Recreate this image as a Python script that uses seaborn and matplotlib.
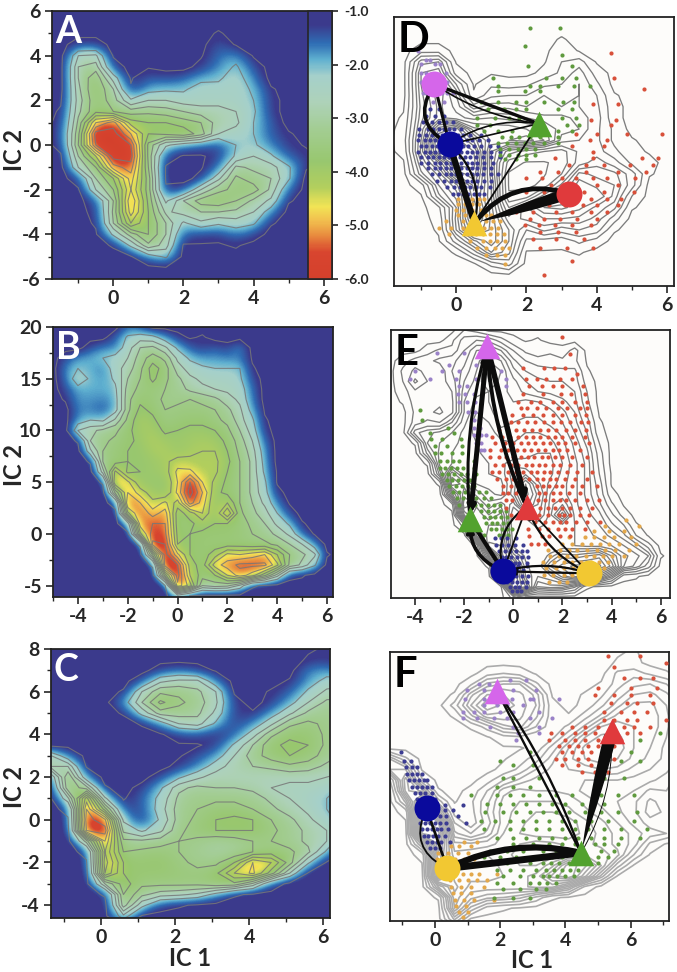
import numpy as np
import pandas as pd
import matplotlib
matplotlib.use("Agg")
import matplotlib.pyplot as plt
import seaborn as sns
from matplotlib.colors import LinearSegmentedColormap, Normalize
from matplotlib.cm import ScalarMappable
from matplotlib.patches import FancyArrowPatch
from matplotlib.ticker import MultipleLocator

# free energy, stored as -10*F per row: y -> (first x, values), rest of the row is navy (10)
A_XS = [-2 + 0.5 * i for i in range(18)]
A_YS = [6 - 0.5 * i for i in range(25)]
A_ROWS = {
    5.0: (3.0, [12]),
    4.5: (-1.0, [14, 14, 10, 10, 10, 10, 10, 10, 15, 11]),
    4.0: (-1.0, [26, 27, 11, 10, 10, 10, 10, 11, 16, 18, 11]),
    3.5: (-1.0, [30, 32, 14, 10, 11, 10, 10, 13, 17, 22, 14]),
    3.0: (-1.0, [30, 37, 24, 11, 15, 14, 15, 19, 20, 24, 17, 10]),
    2.5: (-1.0, [29, 38, 30, 12, 19, 20, 20, 24, 23, 24, 20, 12]),
    2.0: (-1.5, [11, 28, 37, 32, 22, 26, 26, 24, 24, 24, 24, 21, 13]),
    1.5: (-1.5, [12, 29, 37, 34, 32, 33, 32, 30, 28, 28, 26, 22, 13]),
    1.0: (-1.5, [13, 31, 50, 56, 40, 38, 38, 36, 34, 28, 27, 21, 15]),
    0.5: (-1.5, [14, 33, 60, 60, 50, 38, 39, 41, 36, 26, 24, 21, 15, 12]),
    0.0: (-1.5, [13, 34, 58, 60, 58, 33, 22, 18, 16, 14, 21, 22, 17, 13, 11]),
    -0.5: (-1.5, [11, 30, 42, 60, 60, 33, 14, 11, 11, 13, 22, 26, 22, 15, 13]),
    -1.0: (-1.5, [10, 26, 34, 52, 56, 34, 11, 10, 11, 16, 31, 29, 28, 22, 12]),
    -1.5: (-1.0, [14, 30, 38, 52, 36, 11, 10, 13, 25, 35, 32, 30, 22, 10]),
    -2.0: (-1.0, [11, 26, 34, 50, 36, 12, 14, 26, 33, 35, 36, 29, 16]),
    -2.5: (-0.5, [15, 30, 54, 37, 20, 30, 36, 37, 34, 29, 25, 12]),
    -3.0: (-0.5, [13, 31, 52, 38, 25, 28, 30, 30, 29, 26, 18, 10]),
    -3.5: (-0.5, [12, 30, 46, 38, 30, 20, 25, 22, 24, 22, 12]),
    -4.0: (-0.5, [11, 22, 32, 38, 30, 15, 14, 13, 17, 14, 10]),
    -4.5: (0.0, [12, 22, 33, 28, 11, 11, 11, 12, 10]),
    -5.0: (0.5, [11, 18, 22, 10]),
    -5.5: (1.5, [11]),
}

B_XS = [-5 + 0.5 * i for i in range(24)]
B_YS = [20 - i for i in range(27)]
B_ROWS = {
    20: (-2.0, [16, 14]),
    19: (-2.5, [15, 22, 24, 23, 18, 13, 11, 12, 10]),
    18: (-3.5, [14, 17, 17, 24, 30, 31, 27, 20, 15, 13, 15, 13, 18]),
    17: (-4.5, [14, 18, 19, 21, 23, 26, 32, 36, 33, 25, 20, 18, 18, 17, 17, 11]),
    16: (-4.5, [17, 21, 19, 17, 24, 28, 33, 40, 36, 28, 24, 22, 21, 21, 21, 12]),
    15: (-4.5, [16, 25, 20, 18, 22, 30, 34, 39, 35, 31, 27, 25, 24, 24, 22, 14]),
    14: (-4.5, [14, 19, 19, 19, 20, 32, 35, 36, 34, 32, 29, 27, 26, 25, 24, 16, 10]),
    13: (-4.5, [12, 18, 18, 17, 19, 33, 37, 36, 33, 33, 34, 33, 31, 28, 25, 17, 10]),
    12: (-4.0, [17, 17, 15, 19, 33, 39, 37, 34, 35, 35, 35, 34, 31, 27, 19, 11]),
    11: (-4.0, [18, 21, 20, 27, 35, 41, 39, 35, 36, 37, 37, 35, 33, 28, 22, 12]),
    10: (-4.0, [26, 29, 31, 33, 37, 40, 41, 37, 38, 39, 39, 38, 35, 30, 24, 13]),
    9: (-4.0, [12, 30, 33, 35, 37, 39, 42, 40, 39, 40, 41, 40, 37, 32, 26, 16]),
    8: (-3.5, [25, 34, 36, 38, 38, 41, 42, 39, 41, 42, 42, 38, 33, 28, 18]),
    7: (-3.5, [12, 34, 36, 38, 38, 39, 41, 44, 43, 42, 43, 39, 34, 29, 19]),
    6: (-3.0, [28, 47, 37, 38, 39, 40, 47, 47, 43, 43, 38, 34, 29, 20, 11]),
    5: (-3.0, [12, 50, 47, 39, 38, 38, 46, 58, 46, 41, 37, 34, 29, 22, 11]),
    4: (-2.5, [35, 50, 44, 40, 38, 47, 60, 50, 39, 37, 34, 29, 23, 13]),
    3: (-2.5, [14, 54, 50, 43, 47, 40, 56, 48, 38, 42, 34, 30, 25, 17, 11]),
    2: (-2.0, [45, 54, 48, 52, 36, 40, 46, 38, 50, 35, 31, 28, 21, 14]),
    1: (-2.0, [18, 52, 54, 54, 36, 37, 40, 38, 38, 36, 33, 30, 25, 20, 12]),
    0: (-1.5, [45, 56, 55, 37, 38, 37, 37, 37, 36, 34, 32, 29, 25, 16, 11]),
    -1: (-1.5, [12, 59, 58, 38, 38, 37, 36, 36, 36, 35, 35, 33, 30, 26, 18, 10]),
    -2: (-1.0, [35, 60, 47, 38, 36, 40, 47, 46, 48, 50, 42, 34, 31, 27, 12]),
    -3: (-1.0, [12, 60, 58, 40, 36, 48, 52, 55, 55, 55, 47, 33, 29, 22, 10]),
    -4: (-0.5, [40, 60, 42, 36, 38, 46, 52, 48, 39, 28, 13, 12]),
    -5: (-0.5, [11, 57, 48, 30, 32, 31, 25, 12, 11]),
    -6: (0.0, [18, 11]),
}

C_XS = [round(-1.4 + 0.5 * i, 1) for i in range(19)]
C_YS = [8 - 0.5 * i for i in range(27)]
C_ROWS = {
    8.0: (5.6, [11, 12]),
    7.5: (5.6, [12, 13]),
    7.0: (1.6, [14, 16, 14, 11, 10, 10, 10, 10, 17, 18, 15, 12]),
    6.5: (1.1, [15, 25, 27, 27, 17, 10, 10, 10, 12, 18, 23, 24, 20, 14]),
    6.0: (0.6, [12, 26, 33, 33, 31, 26, 11, 10, 12, 15, 22, 27, 28, 25, 18]),
    5.5: (0.6, [18, 30, 39, 35, 32, 27, 13, 10, 13, 19, 26, 31, 31, 27, 20]),
    5.0: (0.6, [12, 23, 32, 32, 31, 25, 13, 12, 18, 25, 31, 32, 32, 28, 20]),
    4.5: (0.6, [10, 12, 18, 26, 28, 20, 13, 17, 25, 33, 35, 33, 32, 28, 20]),
    4.0: (1.6, [11, 14, 15, 12, 15, 24, 33, 37, 37, 33, 31, 27, 20]),
    3.5: (2.1, [11, 11, 13, 22, 30, 37, 39, 38, 33, 30, 26, 20]),
    3.0: (-1.4, [27, 17, 10, 10, 10, 10, 10, 11, 14, 18, 26, 32, 36, 38, 36, 32, 29, 26, 20]),
    2.5: (-1.4, [30, 30, 11, 10, 10, 10, 10, 13, 17, 24, 28, 30, 31, 33, 32, 29, 27, 25, 20]),
    2.0: (-1.4, [15, 38, 17, 10, 10, 10, 14, 20, 25, 28, 27, 27, 27, 27, 27, 26, 25, 22, 17]),
    1.5: (-1.4, [10, 37, 32, 12, 10, 13, 20, 29, 31, 30, 30, 29, 26, 25, 25, 24, 19, 20, 16]),
    1.0: (-0.9, [25, 52, 22, 11, 15, 23, 31, 33, 33, 33, 32, 29, 26, 24, 21, 15, 18, 15]),
    0.5: (-0.9, [13, 58, 36, 14, 14, 24, 32, 34, 36, 36, 34, 31, 28, 25, 21, 14, 17, 14]),
    0.0: (-0.9, [11, 60, 55, 20, 13, 22, 32, 35, 38, 39, 38, 34, 31, 27, 23, 18, 18, 14]),
    -0.5: (-0.4, [58, 60, 25, 20, 25, 33, 36, 38, 38, 38, 35, 32, 29, 26, 22, 20, 16]),
    -1.0: (-0.4, [28, 54, 31, 31, 32, 34, 33, 31, 32, 34, 34, 32, 29, 26, 15, 11]),
    -1.5: (-0.4, [13, 50, 34, 35, 36, 34, 32, 30, 31, 34, 36, 35, 31, 20, 11]),
    -2.0: (-0.4, [11, 52, 38, 37, 38, 35, 33, 33, 38, 50, 46, 36, 22, 11]),
    -2.5: (-0.4, [10, 50, 38, 37, 37, 36, 35, 37, 46, 51, 40, 26, 11]),
    -3.0: (0.1, [30, 40, 35, 35, 35, 35, 37, 37, 29, 15, 10]),
    -3.5: (0.1, [12, 38, 31, 28, 27, 25, 19, 12, 11]),
    -4.0: (0.6, [36, 23, 14, 12, 11]),
    -4.5: (0.6, [25, 11]),
    -5.0: (0.6, [11]),
}

# kinetic cluster microstates, y -> x values
D_PURPLE = {4.5: [-1.1], 4.1: [-.85, -.75], 3.9: [-1.0, -.6, -.45], 3.5: [-1.0, -.85, -.3], 3.1: [-1.0, -.25],
            2.6: [-.95, -.85, -.4, -.25, -.1], 2.2: [-.65, -.35]}
D_BLUE = {1.9: [-.75, -.5], 1.6: [-.85, -.6, -.35], 1.3: [-.95, -.7, -.5, -.3, -.1],
          1.0: [-1.05, -.8, -.65, -.5, -.35, -.2, -.05, .15],
          .75: [-1.05, -.85, -.7, -.55, -.4, -.25, -.1, .05, .2, .4, .7],
          .5: [-1.1, -.9, -.75, -.6, -.45, -.3, -.15, 0, .15, .3, .45, .65, .9],
          .25: [-1.0, -.85, -.7, -.55, -.4, -.25, -.1, .05, .2, .35, .5, .7, .95, 1.2],
          0: [-1.1, -.9, -.75, -.6, -.45, -.3, -.15, 0, .15, .3, .45, .6, .8, 1.0, 1.25],
          -.25: [-1.0, -.8, -.65, -.5, -.35, -.2, -.05, .1, .25, .4, .55, .75, 1.0, 1.25],
          -.5: [-1.0, -.8, -.6, -.45, -.3, -.15, 0, .15, .3, .45, .6, .8, 1.05],
          -.75: [-.8, -.6, -.45, -.3, -.15, 0, .15, .3, .45, .6, .8, 1.0],
          -1.0: [-.7, -.5, -.3, -.15, 0, .15, .3, .45, .6, .75, 1.0, 1.2],
          -1.3: [-.55, -.35, -.15, 0, .15, .3, .45, .6, .8, 1.0],
          -1.6: [-.25, -.05, .1, .25, .4, .55, .7, .95], -1.9: [-.1, .05, .2, .35, .5, .65, .8]}
D_GREEN = {5.5: [2.1, 2.95], 4.7: [1.95], 4.3: [3.0], 3.8: [2.05, 3.3], 3.3: [1.05, 2.55, 3.0, 3.4],
           2.9: [1.2, 2.1, 2.4, 2.9, 3.35, 3.8], 2.7: [1.2, 1.95, 2.4], 2.2: [.7, 1.2, 1.7, 2.0, 2.5, 3.05, 3.35],
           1.9: [.9, 1.35, 1.7, 2.0, 2.9, 3.3], 1.5: [.6, 1.1, 1.5, 1.8, 3.0, 3.4], 1.2: [.6, .95, 3.15, 3.5],
           .9: [.8, 1.2, 1.6, 2.9, 3.3], .65: [1.3, 1.55, 1.8, 2.1, 2.4, 2.9],
           .4: [1.2, 1.45, 1.7, 1.95, 2.2, 2.5, 2.9], .1: [1.25, 1.5, 1.75, 2.0, 2.25],
           -.15: [1.25, 1.5, 1.75, 2.0, 2.25], -.35: [1.4, 1.7, 2.0]}
D_ORANGE = {-2.1: [.05, .25, .45, .65, .8], -2.35: [.05, .25, .45, .65], -2.6: [0, .2, .45, .7],
            -2.85: [.05, .25, .7, .85, 1.0], -3.1: [-.3, .2, .85, 1.05, 1.25], -3.4: [-.5, -.15, .2, .8, 1.0, 1.2],
            -3.7: [-.2, .3, .55, .75, .95, 1.15, 1.35], -4.0: [.4, .75, .95, 1.15, 1.4],
            -4.3: [.6, .85, 1.1, 1.3, 1.5], -4.6: [.85, 1.15, 1.4], -5.0: [1.4]}
D_RED = {4.4: [4.4], 3.3: [4.5], 2.8: [5.35], 2.1: [3.9, 4.6], 1.4: [3.85, 4.55], 1.2: [4.4],
         .8: [3.4, 4.0, 4.85, 5.85], .5: [3.8, 4.3], .25: [3.3, 4.2], 0: [3.9], -.3: [2.8, 3.9, 5.3, 5.75],
         -.6: [3.2, 3.7, 4.2, 4.95, 5.6], -.9: [2.4, 2.9, 3.7, 4.6, 5.4],
         -1.2: [2.0, 2.45, 3.0, 3.4, 3.9, 4.3, 5.1], -1.5: [2.7, 3.2, 4.0, 4.6], -1.8: [2.0, 2.5, 3.65, 4.2, 5.05],
         -2.1: [2.9, 3.4, 3.85, 4.3, 4.7], -2.4: [2.3, 2.65, 3.1, 3.6, 4.0, 4.6],
         -2.7: [1.7, 2.2, 2.85, 3.3, 3.85, 4.3], -3.0: [2.1, 2.5, 2.95, 3.45, 4.0],
         -3.3: [1.95, 2.35, 2.8, 3.3, 3.85], -3.6: [2.4, 2.9, 3.4], -3.9: [2.2, 2.85, 3.65],
         -4.3: [2.4, 3.15, 3.9], -4.9: [3.3], -5.5: [2.5]}

E_PURPLE = {17.8: [-3.1, -2.0], 16.6: [-2.6, -1.5], 16: [-4.0, -2.9, -2.2, -.5], 15.2: [-4.2, -3.4, -2.35, -1.5, -.3],
            14.5: [-2.2, -1.9, -.3], 13.8: [-2.25, -1.95, -1.6], 13: [-2.2, -1.9, -1.55], 12: [-1.85, -1.55],
            11.2: [-1.6, -1.4], 10.5: [-1.6, -1.35], 9.8: [-1.6, -1.3, -1.1], 9: [-1.5, -1.3], 8.3: [-1.3, -1.2]}
E_GREEN = {12.2: [-3.8], 11.2: [-3.7], 10.5: [-2.65], 10: [-3.4, -2.4], 9.4: [-3.35, -2.9, -2.15],
           8.7: [-3.2, -2.7, -2.1], 8: [-3.2, -2.95, -2.5, -2.1], 7.2: [-3.0, -2.7, -2.45, -2.2, -1.6],
           6.6: [-3, -2.8, -2.55, -2.3, -2.05, -1.6], 6: [-2.9, -2.65, -2.4, -2.15, -1.9, -1.5],
           5.4: [-2.7, -2.5, -2.25, -2.0, -1.75], 4.8: [-2.6, -2.35, -2.1, -1.85, -1.6],
           4.2: [-2.45, -2.2, -1.95, -1.7, -1.4, -1.1], 3.6: [-2.3, -2.05, -1.8, -1.5, -1.2, -.9],
           3: [-2.2, -1.55, -1.3, -1.05, -.8, -.55], 2.4: [-1.3, -1.05, -.8, -.55, -.3],
           1.8: [-1.2, -.95, -.75, -.5, -.25], 1.2: [-1.1, -.85, -.65, -.4, -.2], .6: [-.9, -.7, -.45, -.25, -.05],
           0: [-1.2, -.6, -.4, -.2]}
E_BLUE = {-.3: [-.75, -.5, -.25, .1], -.9: [-.7, -.45, -.2, .05, .4], -1.5: [-.6, -.35, -.15, .1, .35, .55],
          -2.1: [-.45, -.3, -.1, .15, .35, .6], -2.7: [-.2, .05, .25, .55], -3: [.2, .55], -3.4: [.15, .4],
          -4: [-.3, -.1, .1, .35, .6], -4.5: [-.25, -.05, .15, .35, .55], -5: [-.15, .05, .25, .5],
          -5.4: [-.05, .15, .3]}
E_RED = {19.3: [2.0], 17.7: [2.3], 16.3: [.4, 1.25, 1.65, 2.1], 15.7: [2.6], 15.2: [.5, .95, 1.35, 1.9, 2.4],
         14.5: [.65, 1.15, 1.6, 2.0, 2.85], 13.8: [.4, 1.2, 1.95, 2.35, 2.9], 13: [.2, .7, 1.1, 1.6, 2.0, 2.5, 3.0],
         12.4: [.3, .55, .95, 1.35, 1.8, 2.2, 2.7, 3.0], 11.7: [-.05, .4, .8, 1.2, 1.6, 2.0, 2.5, 2.95],
         11: [-.1, .2, .55, .9, 1.25, 1.6, 1.95, 2.3, 2.75, 3.05],
         10.3: [-.6, -.2, .1, .45, .75, 1.1, 1.4, 1.75, 2.15, 2.5, 2.95],
         9.6: [-.85, -.45, -.15, .2, .5, .8, 1.1, 1.4, 1.7, 2.0, 2.4, 2.9],
         9: [-.75, -.35, 0, .3, .6, .9, 1.2, 1.5, 1.8, 2.1, 2.5, 3.1],
         8.3: [-.95, -.5, -.2, .15, .45, .7, 1.0, 1.3, 1.6, 1.85, 2.2, 2.7],
         7.6: [-.95, -.6, -.3, 0, .3, .6, .85, 1.15, 1.4, 1.7, 2.0, 2.4, 3.0],
         6.9: [-.75, -.4, -.1, .2, .5, .75, 1.05, 1.3, 1.6, 1.9, 2.3, 2.8],
         6.2: [-.85, -.6, -.2, .1, .4, .7, .95, 1.25, 1.5, 1.8, 2.2, 2.6, 3.2],
         5.5: [-.65, -.3, 0, .3, .65, .95, 1.2, 1.5, 1.75, 2.1, 2.5, 3.0],
         4.8: [-.4, -.1, .2, .95, 1.2, 1.45, 1.75, 2.0, 2.4, 2.8, 3.4],
         4.1: [-.4, -.2, .1, 1.05, 1.3, 1.6, 1.9, 2.25, 2.7],
         3.4: [-.3, -.05, 1.0, 1.3, 1.6, 1.9, 2.15, 2.5, 3.0, 3.5],
         2.7: [-.3, 1.1, 1.4, 1.7, 2.0, 2.3, 2.7, 3.2], 2: [-.1, 1.05, 1.4, 1.85, 2.05, 2.3, 2.7, 3.1],
         1.3: [.9, 1.3, 1.6, 1.9, 2.15, 2.55, 3.0, 3.55], .6: [.6, 1.05, 1.4, 1.8, 2.1, 2.4, 2.9],
         -.1: [.65, 1.15, 1.45, 1.9, 2.3], -.8: [.7, 1.0, 1.3]}
E_ORANGE = {1.5: [4.6], .9: [3.75, 5.1], .4: [3.3, 3.9, 4.5], -.2: [2.25, 2.9, 3.3, 3.7, 4.1, 4.8],
            -.8: [2.0, 2.4, 2.8, 3.15, 3.55, 3.9, 4.3, 5.0], -1.4: [1.4, 1.9, 2.25, 2.6, 3.0, 3.4, 3.75, 4.15, 4.7],
            -2: [1.5, 1.85, 2.2, 2.55, 2.95, 3.3, 3.65, 4.0, 4.5], -2.6: [1.2, 1.65, 2.05, 2.4, 2.75, 3.15, 3.5, 3.85],
            -3.2: [1.35, 1.75, 2.05, 2.45, 3.7], -3.9: [1.25, 1.6, 2.05, 2.4], -4.5: [1.45, 1.85, 2.2]}

F_PURPLE = {6.7: [2.3, 2.8], 6.5: [1.35, 1.65], 6.2: [.97, 1.5, 2.4, 3.1], 5.8: [.92, 1.5, 2.35, 2.9, 3.0, 3.8],
            5.5: [1.5, 1.9, 2.2, 2.7], 5.2: [.85, 1.2, 1.5, 2.0, 2.4, 3.2], 4.9: [.85, 1.3, 1.8, 2.2, 2.9, 3.6],
            4.5: [1.7, 2.4, 3.2], 4.2: [2.55, 3.2], 3.9: [2.5]}
F_BLUE = {3.3: [-1.05], 2.9: [-.95, -.75], 2.6: [-.9, -.7, -.55], 2.3: [-.85, -.7, -.55, -.4],
          2: [-.8, -.65, -.5, -.35, -.25], 1.7: [-.7, -.55, -.4, -.25, -.1], 1.4: [-.6, -.45, -.3, -.1],
          1.1: [-.55, -.4, -.2, 0], .85: [.3, .85], .6: [.3, .55], .3: [-.5, .15, .35, .7],
          0: [-.45, -.3, -.15, 0, .15, .35, .95], -.3: [-.4, -.25, -.1, .05, .2, .4],
          -.6: [-.35, -.2, -.05, .1, .3], -.9: [-.25, -.1, .05, .2, .45], -1.2: [-.15, 0, .15]}
F_ORANGE = {-.9: [.9, 1.3], -1.1: [.5, .75, 1.1], -1.4: [.1, .4, .7, 1.0], -1.7: [.05, .6, .9, 1.2],
            -2: [.85, 1.1, 1.4], -2.4: [.85, 1.1, 1.35, 1.9], -2.7: [.45, .75, 1.0, 1.3, 1.6], -3: [.5, .8, 1.1, 1.5],
            -3.3: [.55, .8, 1.1], -3.6: [.6, .9, 1.2, 1.8], -3.9: [.65, .95], -4.2: [.75, 1.0], -4.4: [.85]}
F_GREEN = {4.2: [6.9], 3.9: [6.3], 3.3: [2.9, 6.0], 2.9: [2.0, 5.7, 6.3], 2.7: [2.4, 3.0],
           2.1: [2.1, 2.4, 3.2, 5.2, 5.8], 1.7: [1.9, 2.4, 2.9, 5.0],
           1.3: [1.1, 1.9, 2.3, 2.7, 3.2, 3.7, 4.2, 5.1, 5.6, 6.1], .9: [1.6, 2.0, 2.4, 2.8, 3.2, 3.6, 4.0, 4.5, 5.2],
           .5: [1.55, 2.1, 2.5, 2.9, 3.3, 3.7, 4.1, 4.6, 5.1, 5.6, 6.2],
           .1: [1.4, 1.85, 2.3, 2.7, 3.1, 3.5, 3.9, 4.3, 4.8, 5.3, 6.1],
           -.3: [1.5, 2.3, 2.7, 3.1, 3.5, 3.9, 4.3, 4.7, 5.2, 5.7, 6.5],
           -.7: [1.9, 2.4, 2.8, 3.2, 3.6, 4.0, 4.4, 4.8, 5.2, 5.7, 6.3],
           -1: [2.4, 3.0, 3.5, 3.9, 4.3, 4.9, 5.2, 5.6], -1.3: [1.7, 2.2, 2.7, 3.3, 3.7, 5.1, 5.5],
           -1.6: [1.5, 2.0, 2.5, 3.2, 3.6, 3.9, 5.0, 5.3], -1.9: [1.7, 2.2, 2.9, 3.3, 3.55, 3.8, 4.1, 4.4, 4.7, 5.0],
           -2.2: [1.9, 2.3, 2.7, 3.1, 3.4, 3.65, 3.9, 4.15, 4.4], -2.5: [2.1, 2.6, 3.0, 3.3, 3.5, 3.75, 4.0, 4.25],
           -2.8: [1.9, 2.4, 2.9, 3.2, 3.45, 3.7], -3.1: [2.1, 2.6, 3.1, 3.4], -3.5: [1.8, 2.4, 2.9]}
F_RED = {7.8: [5.3, 6.3], 7.5: [7.1], 7.3: [5.5], 6.8: [5.8, 6.3, 6.7], 6.3: [5.0, 6.0, 6.8], 6: [4.9, 5.5, 6.0, 6.6],
         5.6: [5.4, 5.9, 6.2, 6.7], 5.2: [5.2, 5.7, 6.1, 6.5], 4.8: [5.2, 5.5, 5.9, 6.2, 7.1],
         4.5: [4.2, 4.6, 5.0, 5.8, 6.1, 6.6], 4.2: [3.55, 3.9, 4.3, 4.6, 4.9, 5.9, 6.3],
         3.9: [3.5, 4.0, 4.3, 4.6, 5.0, 5.7], 3.6: [3.8, 4.1, 4.4, 4.7, 5.0, 5.5], 3.3: [3.9, 4.2, 4.5, 4.8, 5.2],
         3: [3.7, 4.0, 4.4, 4.7, 5.1, 5.5], 2.7: [3.9, 4.4, 4.8], 2.4: [4.5, 4.9, 5.3]}

# macrostate centres
D_NODES = {"purple": (-.62, 3.0), "blue": (-.19, .32), "green": (2.35, 1.24), "red": (3.2, -1.88), "yellow": (.52, -3.2)}
E_NODES = {"purple": (-1.06, 18.4), "red": (.54, 2.8), "green": (-1.76, 1.55), "blue": (-.41, -3.5), "yellow": (3.08, -3.7)}
F_NODES = {"purple": (1.91, 6.15), "red": (5.42, 4.32), "green": (4.48, -1.41), "blue": (-.26, .67), "yellow": (.38, -2.14)}
D_TRIANGLES = ["green", "yellow"]
E_TRIANGLES = ["purple", "red", "green"]
F_TRIANGLES = ["purple", "red", "green"]

FE_TICKS = [-1.0, -2.0, -3.0, -4.0, -5.0, -6.0]

NODE_COLORS = {"purple": "#d566ea", "blue": "#0a0a9c", "green": "#52a22e", "red": "#e03a3c", "yellow": "#f2c832"}
DOT_COLORS = {"purple": "#9a82c8", "blue": "#3c3c92", "green": "#5f9a3e", "red": "#d8503a", "yellow": "#e3a84b"}

fe_cmap = LinearSegmentedColormap.from_list("fe", [
    (0.00, "#d4402c"), (0.10, "#d8452f"), (0.16, "#e88a3e"), (0.22, "#f2c24f"), (0.27, "#f2e455"),
    (0.34, "#b3cf5d"), (0.44, "#98c76f"), (0.56, "#a3cd93"), (0.66, "#aed2b9"), (0.76, "#a5d0cb"),
    (0.82, "#5fb0d0"), (0.88, "#2f6db4"), (0.95, "#3b3a8c"), (1.00, "#3b3a8c")])
fe_norm = Normalize(-6, -1)


def to_grid(rows, xs, ys):
    grid = np.full((len(ys), len(xs)), 10.0)
    for i, y in enumerate(ys):
        if y in rows:
            start, vals = rows[y]
            j0 = int(np.argmin(np.abs(np.array(xs) - start)))
            grid[i, j0:j0 + len(vals)] = vals
    return -grid / 10.0


def to_frame(rows):
    return pd.DataFrame([(x, y) for y, vals in rows.items() for x in vals], columns=["x", "y"])


def px_axes(fig, left, top, right, bottom):
    W, H = 677, 972
    return fig.add_axes([left / W, 1 - bottom / H, (right - left) / W, (bottom - top) / H])


def style_axes(ax, xlim, ylim, xticks, left_ticks=True):
    ax.set_xlim(*xlim)
    ax.set_ylim(*ylim)
    ax.set_xticks(xticks)
    ax.xaxis.set_minor_locator(MultipleLocator(1))
    ax.tick_params(axis="x", which="major", length=5, width=1.2, labelsize=14, pad=3, direction="out", bottom=True)
    ax.tick_params(axis="x", which="minor", length=3, width=1.0, bottom=True)
    if not left_ticks:
        ax.set_yticks([])
    for s in ax.spines.values():
        s.set_visible(True)
        s.set_linewidth(1.3)
        s.set_color("#222222")
    ax.set_xlabel("")
    ax.set_ylabel("")


def map_panel(ax, grid, xs, ys, xlim, ylim, xticks, yticks, yminor, letter):
    dx, dy = xs[1] - xs[0], ys[0] - ys[1]
    ax.imshow(grid, extent=[xs[0] - dx / 2, xs[-1] + dx / 2, ys[-1] - dy / 2, ys[0] + dy / 2],
              cmap=fe_cmap, norm=fe_norm, interpolation="bicubic", aspect="auto", zorder=1)
    ax.contour(xs, ys, grid, levels=[-5.8, -5.4, -5.0, -4.6, -4.2, -3.8, -3.4, -3.0, -2.6, -2.1, -1.15],
               colors="#777777", linewidths=0.8, alpha=0.85, zorder=2, negative_linestyles="solid")
    style_axes(ax, xlim, ylim, xticks)
    ax.set_yticks(yticks)
    ax.yaxis.set_minor_locator(MultipleLocator(yminor))
    ax.tick_params(axis="y", which="major", length=5, width=1.2, labelsize=14, pad=3, left=True)
    ax.tick_params(axis="y", which="minor", length=3, width=1.0, left=True)
    ax.text(0.01, 0.985, letter, transform=ax.transAxes, color="white", fontsize=27, fontweight="bold",
            va="top", ha="left", zorder=5)


def edge(ax, a, b, width, rad=0.0, wedge=False, style="-"):
    kw = dict(connectionstyle=f"arc3,rad={rad}", shrinkA=4, shrinkB=4, zorder=4, color="#0c0c0c")
    if wedge:
        patch = FancyArrowPatch(a, b, arrowstyle=f"wedge,tail_width={width},shrink_factor=0.75",
                                mutation_scale=1, linewidth=0, **kw)
    else:
        patch = FancyArrowPatch(a, b, arrowstyle=style, mutation_scale=10, linewidth=width, **kw)
    ax.add_patch(patch)


def state_panel(ax, grid, xs, ys, xlim, ylim, xticks, letter, dots, nodes, triangles, line_color, line_width, levels):
    ax.set_facecolor("#fdfcfa")
    ax.contour(xs, ys, grid, levels=levels, colors=line_color, linewidths=line_width, zorder=1,
               negative_linestyles="solid")
    for name, rows in dots.items():
        sns.scatterplot(data=to_frame(rows), x="x", y="y", ax=ax, color=DOT_COLORS[name], s=9, linewidth=0, zorder=3)
    for name, (x, y) in nodes.items():
        sns.scatterplot(x=[x], y=[y], ax=ax, color=NODE_COLORS[name], s=340 if name in triangles else 350,
                        marker="^" if name in triangles else "o", linewidth=0, zorder=6)
    style_axes(ax, xlim, ylim, xticks, left_ticks=False)
    ax.text(0.012, 0.985, letter, transform=ax.transAxes, color="black", fontsize=30, fontweight="bold",
            va="top", ha="left", zorder=7)


sns.set_theme(style="ticks")
plt.rcParams["font.family"] = ["Lato", "DejaVu Sans"]
plt.rcParams["font.weight"] = "bold"
plt.rcParams["axes.labelweight"] = "bold"
plt.rcParams["axes.unicode_minus"] = False

fig = plt.figure(figsize=(6.77, 9.72), dpi=100, facecolor="white")

a_grid = to_grid(A_ROWS, A_XS, A_YS)
b_grid = to_grid(B_ROWS, B_XS, B_YS)
c_grid = to_grid(C_ROWS, C_XS, C_YS)

ax_a = px_axes(fig, 52, 11, 332, 279)
map_panel(ax_a, a_grid, A_XS, A_YS, (-1.75, 6.24), (-6, 6), [0, 2, 4, 6], [-6, -4, -2, 0, 2, 4, 6], 1, "A")
ax_b = px_axes(fig, 53, 327, 333, 597)
map_panel(ax_b, b_grid, B_XS, B_YS, (-5.0, 6.24), (-6.1, 20), [-4, -2, 0, 2, 4, 6], [-5, 0, 5, 10, 15, 20], 2.5, "B")
ax_c = px_axes(fig, 51, 649, 330, 918)
map_panel(ax_c, c_grid, C_XS, C_YS, (-1.36, 6.19), (-4.6, 8), [0, 2, 4, 6], [-4, -2, 0, 2, 4, 6, 8], 1, "C")

# colour bar sits inside panel A, over its right edge
cax = px_axes(fig, 308, 11, 332, 279)
cb = fig.colorbar(ScalarMappable(norm=fe_norm, cmap=fe_cmap), cax=cax)
cb.set_ticks(FE_TICKS)
cb.set_ticklabels([f"{t:.1f}" for t in FE_TICKS])
cb.ax.tick_params(length=4, width=1.2, labelsize=10, pad=5, right=True)
cb.outline.set_linewidth(1.2)

ax_d = px_axes(fig, 394, 17, 674, 286)
fine = [-5.8, -5.4, -5.1, -4.8, -4.5, -4.2, -3.9, -3.6, -3.3, -3.0, -2.7, -2.4, -2.0, -1.6, -1.15]
state_panel(ax_d, a_grid, A_XS, A_YS, (-1.77, 6.2), (-6, 6), [0, 2, 4, 6], "D",
            {"purple": D_PURPLE, "blue": D_BLUE, "green": D_GREEN, "yellow": D_ORANGE, "red": D_RED},
            D_NODES, D_TRIANGLES, "#7d7d7d", 0.95, fine)
n = D_NODES
edge(ax_d, n["purple"], n["green"], 2.4)
edge(ax_d, n["purple"], n["green"], 1.2, rad=0.12)
edge(ax_d, n["blue"], n["green"], 1.2, rad=-0.2)
edge(ax_d, n["blue"], n["green"], 1.2)
edge(ax_d, n["purple"], n["blue"], 2.2)
edge(ax_d, n["purple"], n["blue"], 2.6, rad=0.55)
edge(ax_d, n["blue"], n["yellow"], 4.5)
edge(ax_d, n["blue"], n["yellow"], 1.6, rad=-0.3)
edge(ax_d, n["green"], n["yellow"], 1.3)
edge(ax_d, n["red"], n["yellow"], 8, wedge=True)
edge(ax_d, n["yellow"], n["red"], 3.5, rad=-0.35)

ax_e = px_axes(fig, 391, 330, 670, 598)
state_panel(ax_e, b_grid, B_XS, B_YS, (-4.98, 6.38), (-6.1, 20), [-4, -2, 0, 2, 4, 6], "E",
            {"purple": E_PURPLE, "green": E_GREEN, "blue": E_BLUE, "yellow": E_ORANGE, "red": E_RED},
            E_NODES, E_TRIANGLES, "#7d7d7d", 0.95, fine)
n = E_NODES
edge(ax_e, n["green"], n["purple"], 3.6, style="<|-|>")
edge(ax_e, n["green"], n["purple"], 2.2, rad=-0.1)
edge(ax_e, n["purple"], n["red"], 4.0, style="-|>")
edge(ax_e, n["purple"], n["red"], 2.8, rad=0.1)
edge(ax_e, n["green"], n["blue"], 3.0)
edge(ax_e, n["blue"], n["green"], 2.6, rad=-0.35, style="-|>")
edge(ax_e, n["blue"], n["red"], 1.3)
edge(ax_e, n["blue"], n["red"], 1.6, rad=-0.35)
edge(ax_e, n["red"], n["yellow"], 1.3)
edge(ax_e, n["yellow"], n["red"], 1.6, rad=-0.2, style="-|>")
edge(ax_e, n["blue"], n["yellow"], 1.6, rad=-0.15)
edge(ax_e, n["yellow"], n["blue"], 1.6, style="-|>")

ax_f = px_axes(fig, 390, 652, 669, 921)
state_panel(ax_f, c_grid, C_XS, C_YS, (-1.38, 7.18), (-4.6, 8), [0, 2, 4, 6], "F",
            {"purple": F_PURPLE, "blue": F_BLUE, "yellow": F_ORANGE, "green": F_GREEN, "red": F_RED},
            F_NODES, F_TRIANGLES, "#ababab", 1.2, fine)
n = F_NODES
edge(ax_f, n["purple"], n["green"], 1.7)
edge(ax_f, n["purple"], n["green"], 1.7, rad=-0.07)
edge(ax_f, n["red"], n["green"], 9, wedge=True)
edge(ax_f, n["green"], n["red"], 0.7, rad=0.15)
edge(ax_f, n["yellow"], n["green"], 5.0)
edge(ax_f, n["yellow"], n["green"], 4.5, rad=-0.18)
edge(ax_f, n["blue"], n["yellow"], 2.0)
edge(ax_f, n["blue"], n["yellow"], 1.3, rad=0.5)

for y_pos in (150, 465, 787):
    fig.text(14 / 677, 1 - y_pos / 972, "IC 2", rotation=90, fontsize=17, ha="center", va="center")
fig.text(190 / 677, 1 - 958 / 972, "IC 1", fontsize=17, ha="center", va="center")
fig.text(532 / 677, 1 - 960 / 972, "IC 1", fontsize=17, ha="center", va="center")

fig.savefig("out.png", dpi=100)
